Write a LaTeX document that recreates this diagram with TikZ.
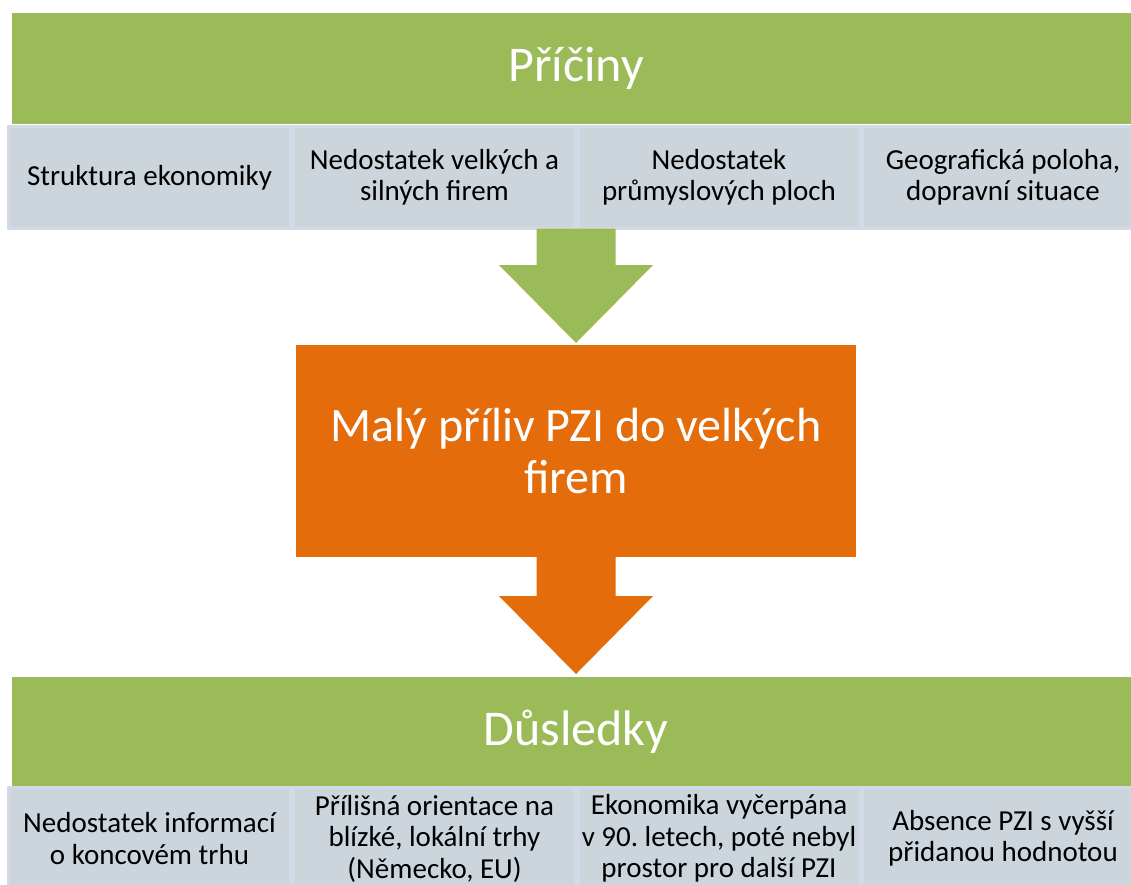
\documentclass[tikz,border=0pt]{standalone}
\usepackage{fontspec}
\setmainfont{Carlito}
\usepackage{xcolor}
\usetikzlibrary{positioning, calc}

\definecolor{barGreen}{HTML}{9BBB59}
\definecolor{boxOrange}{HTML}{E46C0A}
\definecolor{cellFill}{RGB}{203,213,219}
\definecolor{cellEdge}{RGB}{210,218,232}

\tikzset{
    headbar/.style={rectangle, fill=barGreen, text=white, inner sep=0pt,
        minimum width=1128pt, minimum height=111pt, font=\fontsize{50}{52}\selectfont},
    cell/.style={rectangle, fill=cellFill, draw=cellEdge, line width=3pt, inner sep=0pt,
        minimum width=282pt, minimum height=102pt, align=center,
        font=\fontsize{29}{31.5}\selectfont},
    mainbox/.style={rectangle, fill=boxOrange, text=white, inner sep=0pt,
        minimum width=560pt, minimum height=212pt, align=center,
        font=\fontsize{48}{52}\selectfont},
}

% block arrow pointing down: colour, start, tip
\newcommand{\blockarrow}[3]{%
    \fill[#1] let \p1=(#2), \p2=(#3) in
        (\x1-39.5pt,\y1) -- (\x1+39.5pt,\y1) -- (\x1+39.5pt,\y2+78pt)
        -- (\x1+77pt,\y2+78pt) -- (\x2,\y2) -- (\x1-77pt,\y2+78pt)
        -- (\x1-39.5pt,\y2+78pt) -- cycle;}

\frenchspacing
\begin{document}
\begin{tikzpicture}[x=1pt, y=-1pt]
        \clip (0,0) rectangle (1131,884);
        \fill[white] (0,0) rectangle (1131,884);

        % causes
        \node[headbar] (pric) at (576,68.5) {Příčiny};
        \node[cell] (c1) at (149.5,177.5) {Struktura ekonomiky};
        \node[cell] (c2) at (434.5,177.5) {Nedostatek velkých a\\silných firem};
        \node[cell] (c3) at (719,177.5) {Nedostatek\\průmyslových ploch};
        \node[cell] (c4) at (1003,177.5) {Geografická poloha,\\dopravní situace};

        % centre
        \node[mainbox] (pzi) at (576,451) {Malý příliv PZI do velkých\\firem};

        % consequences
        \node[headbar] (dusl) at (576,732) {Důsledky};
        \node[cell] (d1) at (149.5,838.5) {Nedostatek informací\\o koncovém trhu};
        \node[cell] (d2) at (434.5,838.5) {Přílišná orientace na\\blízké, lokální trhy\\(Německo, EU)};
        \node[cell] (d3) at (719,838.5) {Ekonomika vyčerpána\\v 90. letech, poté nebyl\\prostor pro další PZI};
        \node[cell] (d4) at (1003,838.5) {Absence PZI s vyšší\\přidanou hodnotou};

        \coordinate (gtip) at (576,343);
        \coordinate (otip) at (576,674);
        \blockarrow{barGreen}{$(c2.south -| pzi.north)+(0,-1.5)$}{gtip}
        \blockarrow{boxOrange}{pzi.south}{otip}
    \end{tikzpicture}
\end{document}
